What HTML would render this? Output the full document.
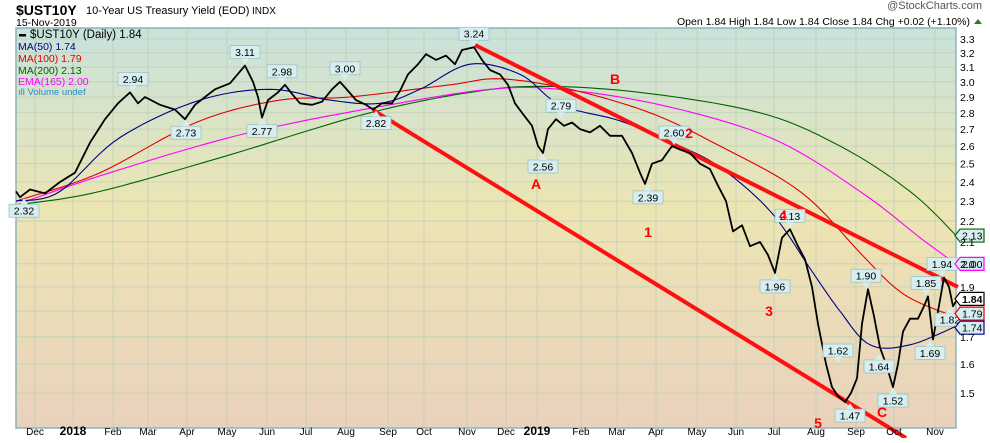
<!DOCTYPE html>
<html><head><meta charset="utf-8"><style>
body{margin:0;background:#fff;width:990px;height:438px;overflow:hidden;font-family:"Liberation Sans",sans-serif}
</style></head><body>
<svg id="s" width="990" height="438" xmlns="http://www.w3.org/2000/svg" font-family="Liberation Sans, sans-serif">
<defs>
<linearGradient id="bg" x1="0" y1="0" x2="0" y2="1">
<stop offset="0" stop-color="#c8e2dc"/>
<stop offset="0.45" stop-color="#ece5b3"/>
<stop offset="1" stop-color="#e9d2bc"/>
</linearGradient>
</defs>
<rect x="16" y="28" width="940" height="400" fill="url(#bg)" stroke="#8fb3b8" stroke-width="1.5"/>
<g id="grid" stroke="#bfcfb8" stroke-width="0.8"></g>
<g id="lines" fill="none"></g>
<g id="ann"></g>
<text x="16" y="15" font-size="14" font-weight="bold">$UST10Y</text>
<text x="86" y="14" font-size="11">10-Year US Treasury Yield (EOD)</text>
<text x="252" y="14" font-size="10">INDX</text>
<text x="16" y="26" font-size="10.5">15-Nov-2019</text>
<text x="982" y="9" font-size="11" text-anchor="end" fill="#555">@StockCharts.com</text>
<text x="970" y="25" font-size="10.5" text-anchor="end">Open 1.84 High 1.84 Low 1.84 Close 1.84 Chg +0.02 (+1.10%)</text>
<polygon points="974,24 982,24 978,19" fill="#2a7a2a"/>
<g font-size="10.5">
<rect x="19" y="34" width="7" height="2.5" fill="#000"/><text x="30" y="38" font-size="11.5">$UST10Y (Daily) 1.84</text>
<text x="18" y="50" fill="#00008b">MA(50) 1.74</text>
<text x="18" y="62" fill="#e00000">MA(100) 1.79</text>
<text x="18" y="74" fill="#006400">MA(200) 2.13</text>
<text x="18" y="85" fill="#ff00ff">EMA(165) 2.00</text>
<text x="18" y="95" fill="#2a8ac8" font-size="9.5">ıll Volume undef</text>
</g>
</svg>
<script>
var NS="http://www.w3.org/2000/svg",s=document.getElementById('s');
function Y(v){return 39+(Math.log(3.3)-Math.log(v))*449;}
function el(t,a,p){var e=document.createElementNS(NS,t);for(var k in a)e.setAttribute(k,a[k]);(p||s).appendChild(e);return e;}
var g=document.getElementById('grid'),L=document.getElementById('lines'),A=document.getElementById('ann');
var months=[[35,'Dec'],[73,'2018',1],[113,'Feb'],[148,'Mar'],[187,'Apr'],[227,'May'],[267,'Jun'],[306,'Jul'],[346,'Aug'],[388,'Sep'],[424,'Oct'],[467,'Nov'],[506,'Dec'],[537,'2019',1],[581,'Feb'],[617,'Mar'],[656,'Apr'],[697,'May'],[736,'Jun'],[774,'Jul'],[816,'Aug'],[856,'Sep'],[894,'Oct'],[935,'Nov']];
months.forEach(function(m){el('line',{x1:m[0],x2:m[0],y1:29,y2:427},g);
 var t=el('text',{x:m[0],y:435,'font-size':m[2]?12:10,'font-weight':m[2]?'bold':'normal','text-anchor':'middle'});t.textContent=m[1];});
[1.5,1.6,1.7,1.8,1.9,2.0,2.1,2.2,2.3,2.4,2.5,2.6,2.7,2.8,2.9,3.0,3.1,3.2,3.3].forEach(function(v){var y=Y(v);el('line',{x1:17,x2:955,y1:y,y2:y},g);
 if(v!=1.8){var t=el('text',{x:960,y:y+4,'font-size':10.5});t.textContent=v.toFixed(1);}});
function smooth(p){var o=[];for(var i=0;i<p.length-1;i++){var p0=p[Math.max(0,i-1)],p1=p[i],p2=p[i+1],p3=p[Math.min(p.length-1,i+2)];
 for(var k=0;k<10;k++){var t=k/10,t2=t*t,t3=t2*t;function f(a,b,c,d){return 0.5*((2*b)+(-a+c)*t+(2*a-5*b+4*c-d)*t2+(-a+3*b-3*c+d)*t3);}
 o.push([f(p0[0],p1[0],p2[0],p3[0]),f(p0[1],p1[1],p2[1],p3[1])]);}}o.push(p[p.length-1]);return o;}
function pl(pts,col,w,sm){if(sm)pts=smooth(pts);var d=pts.map(function(p){return p[0].toFixed(1)+','+Y(p[1]).toFixed(1)}).join(' ');el('polyline',{points:d,stroke:col,'stroke-width':w,'stroke-linejoin':'round'},L);}
pl([[16,2.28],[100,2.35],[230,2.55],[370,2.8],[470,2.93],[540,2.97],[640,2.93],[760,2.8],[840,2.6],[910,2.35],[956,2.13]],'#006400',1.1,1);
pl([[16,2.28],[110,2.45],[250,2.68],[390,2.85],[490,2.95],[560,2.95],[660,2.85],[770,2.65],[860,2.35],[920,2.12],[956,2.0]],'#ff00ff',1.1,1);
pl([[16,2.30],[100,2.45],[200,2.75],[280,2.88],[350,2.9],[450,2.98],[500,3.02],[570,2.95],[650,2.8],[720,2.6],[800,2.35],[860,2.05],[900,1.88],[940,1.80],[956,1.79]],'#e00000',1.1,1);
pl([[16,2.30],[60,2.35],[120,2.65],[200,2.88],[270,2.95],[330,2.88],[380,2.86],[420,2.95],[470,3.12],[520,3.05],[560,2.85],[620,2.75],[680,2.6],[720,2.48],[770,2.25],[810,1.98],[840,1.8],[870,1.67],[910,1.67],[956,1.74]],'#00008b',1.1,1);
el('line',{x1:373,y1:110,x2:906,y2:438,stroke:'#ff1010','stroke-width':4},L);
el('line',{x1:475,y1:45,x2:958,y2:287,stroke:'#ff1010','stroke-width':4},L);
var P=[[16,2.35],[20,2.32],[30,2.36],[45,2.34],[60,2.40],[75,2.45],[90,2.62],[105,2.76],[118,2.86],[130,2.93],[138,2.86],[145,2.9],[160,2.85],[175,2.82],[185,2.76],[195,2.85],[205,2.9],[215,2.95],[230,2.99],[245,3.11],[253,3.0],[258,2.9],[262,2.77],[268,2.88],[278,2.93],[285,2.98],[292,2.92],[300,2.86],[312,2.85],[322,2.87],[332,2.95],[340,3.0],[348,2.94],[356,2.88],[366,2.85],[373,2.82],[382,2.86],[392,2.86],[400,2.94],[408,3.05],[418,3.12],[426,3.19],[436,3.15],[446,3.18],[455,3.12],[462,3.22],[474,3.24],[482,3.15],[490,3.08],[500,3.05],[508,2.98],[515,2.86],[522,2.8],[532,2.72],[538,2.6],[543,2.56],[548,2.7],[556,2.76],[564,2.72],[572,2.74],[580,2.7],[590,2.68],[600,2.72],[610,2.66],[622,2.66],[632,2.56],[640,2.45],[645,2.39],[652,2.5],[662,2.52],[672,2.6],[680,2.58],[690,2.56],[700,2.5],[710,2.47],[718,2.38],[726,2.3],[733,2.15],[742,2.18],[750,2.08],[760,2.1],[768,2.04],[775,1.96],[782,2.12],[790,2.16],[798,2.08],[805,2.02],[812,1.9],[818,1.75],[826,1.6],[832,1.52],[838,1.49],[845,1.47],[851,1.5],[857,1.55],[862,1.75],[868,1.89],[874,1.78],[880,1.66],[886,1.6],[893,1.52],[898,1.6],[903,1.72],[910,1.77],[918,1.77],[924,1.82],[928,1.86],[933,1.69],[938,1.8],[944,1.94],[949,1.9],[953,1.82],[956,1.84]];
pl(P,'#000',1.8);
function lab(x,v,t,below){var y=Y(v),w=t.length*6.5+4;var by=below?y+7:y-20;
 el('rect',{x:x-w/2,y:by,width:w,height:13,fill:'#d6eef0',stroke:'#9bb',"stroke-width":0.7},A);
 el('polygon',{points:below?(x-4)+','+by+' '+(x+4)+','+by+' '+x+','+(y+1):(x-4)+','+(by+13)+' '+(x+4)+','+(by+13)+' '+x+','+(y-1),fill:'#d6eef0'},A);
 var e=el('text',{x:x,y:by+10.5,'font-size':10.5,'text-anchor':'middle'},A);e.textContent=t;}
lab(24,2.32,'2.32',1);lab(133,2.93,'2.94');lab(186,2.76,'2.73',1);lab(245,3.11,'3.11');lab(262,2.77,'2.77',1);lab(282,2.98,'2.98');lab(345,3.0,'3.00');lab(376,2.82,'2.82',1);lab(474,3.24,'3.24');lab(543,2.56,'2.56',1);lab(561,2.76,'2.79');lab(674,2.6,'2.60');lab(648,2.39,'2.39',1);lab(790,2.16,'2.13');lab(775,1.96,'1.96',1);lab(866,1.89,'1.90');lab(838,1.6,'1.62');lab(879,1.64,'1.64',1);lab(850,1.47,'1.47',1);lab(893,1.52,'1.52',1);lab(926,1.86,'1.85');lab(930,1.69,'1.69',1);lab(942,1.94,'1.94');lab(950,1.82,'1.82',1);
[['B',615,84],['A',536,189],['2',689,138],['1',648,237],['4',783,220],['3',769,316],['5',818,428],['C',882,417]].forEach(function(a){var e=el('text',{x:a[1],y:a[2],fill:'#ff0000','font-size':14,'font-weight':'bold','text-anchor':'middle'},A);e.textContent=a[0];});
function rl(v,t,c,b){var y=Y(v);el('polygon',{points:'955,'+y+' 960,'+(y-6.5)+' 984,'+(y-6.5)+' 984,'+(y+6.5)+' 960,'+(y+6.5),fill:b?'#fff':'#d6eef0',stroke:c,'stroke-width':1.2},A);
 var e=el('text',{x:962,y:y+4,'font-size':10.5,'font-weight':b?'bold':'normal'},A);e.textContent=t;}
rl(2.13,'2.13','#006400');rl(2.0,'2.00','#ff00ff');rl(1.85,'1.84','#000',1);rl(1.79,'1.79','#e00000');rl(1.735,'1.74','#00008b');
</script>
</body></html>
